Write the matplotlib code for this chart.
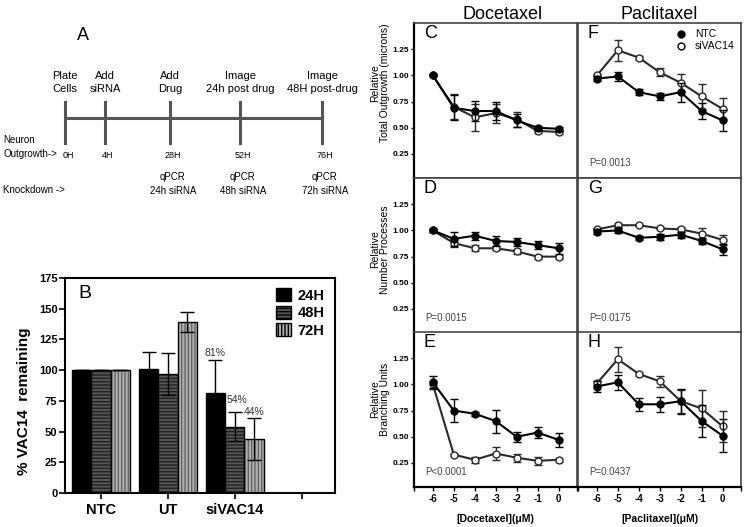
import numpy as np
import matplotlib
matplotlib.use("Agg")
import matplotlib.pyplot as plt
import matplotlib.patches as mpatches
import matplotlib.lines as mlines

plt.rcParams['font.family'] = ['Liberation Sans', 'DejaVu Sans']
narrow = ['Liberation Sans Narrow', 'Liberation Sans', 'DejaVu Sans']

# ---- panel A: timeline ----
tl_top = ["Plate\nCells", "Add\nsiRNA", "Add\nDrug", "Image\n24h post drug", "Image\n48H post-drug"]
tl_hours = ["0H", "4H", "28H", "52H", "76H"]
tl_qpcr = ["", "", "qPCR\n24h siRNA", "qPCR\n48h siRNA", "qPCR\n72h siRNA"]

# ---- panel B: qPCR ----
groups = ["NTC", "UT", "siVAC14", ""]
times = ["24H", "48H", "72H"]
vac_24h = [100, 101, 81]
vac_48h = [100, 97, 54]
vac_72h = [100, 139, 44]
err_24h = [0, 14, 27]
err_48h = [0, 17, 12]
err_72h = [0, 8, 17]
pct_labels = ["81%", "54%", "44%"]

# ---- panels C-H ----
dose = [-6, -5, -4, -3, -2, -1, 0]

doc_out_ntc = [1.00, 0.69, 0.66, 0.66, 0.57, 0.50, 0.49]
doc_out_ntc_err = [0.01, 0.12, 0.10, 0.09, 0.06, 0.02, 0.02]
doc_out_si = [1.00, 0.70, 0.60, 0.64, 0.58, 0.47, 0.46]
doc_out_si_err = [0.01, 0.12, 0.13, 0.09, 0.07, 0.02, 0.02]

doc_proc_ntc = [1.00, 0.92, 0.95, 0.90, 0.89, 0.86, 0.83]
doc_proc_ntc_err = [0.01, 0.07, 0.04, 0.05, 0.04, 0.04, 0.05]
doc_proc_si = [1.00, 0.88, 0.83, 0.83, 0.80, 0.75, 0.75]
doc_proc_si_err = [0.01, 0.04, 0.03, 0.02, 0.02, 0.02, 0.02]

doc_br_ntc = [1.02, 0.75, 0.72, 0.65, 0.50, 0.54, 0.47]
doc_br_ntc_err = [0.06, 0.11, 0.02, 0.11, 0.05, 0.05, 0.07]
doc_br_si = [1.00, 0.33, 0.28, 0.34, 0.30, 0.27, 0.28]
doc_br_si_err = [0.03, 0.01, 0.03, 0.06, 0.04, 0.04, 0.02]

pac_out_ntc = [0.97, 0.99, 0.84, 0.80, 0.84, 0.66, 0.57]
pac_out_ntc_err = [0.02, 0.04, 0.03, 0.03, 0.09, 0.08, 0.10]
pac_out_si = [1.00, 1.24, 1.17, 1.03, 0.93, 0.80, 0.68]
pac_out_si_err = [0.01, 0.10, 0.02, 0.04, 0.08, 0.12, 0.10]

pac_proc_ntc = [0.99, 1.00, 0.93, 0.94, 0.96, 0.90, 0.82]
pac_proc_ntc_err = [0.02, 0.02, 0.02, 0.03, 0.03, 0.03, 0.05]
pac_proc_si = [1.01, 1.05, 1.05, 1.02, 1.01, 0.97, 0.91]
pac_proc_si_err = [0.01, 0.02, 0.01, 0.01, 0.02, 0.05, 0.05]

pac_br_ntc = [0.98, 1.02, 0.81, 0.81, 0.84, 0.65, 0.51]
pac_br_ntc_err = [0.05, 0.07, 0.06, 0.07, 0.12, 0.15, 0.16]
pac_br_si = [1.01, 1.24, 1.10, 1.03, 0.84, 0.77, 0.60]
pac_br_si_err = [0.02, 0.12, 0.02, 0.05, 0.11, 0.18, 0.15]


fig = plt.figure(figsize=(7.5, 5.27), dpi=100)

# panel A drawn in pixel coordinates on a frameless overlay
ax_a = fig.add_axes([0, 0, 1, 1])
ax_a.set_xlim(0, 750)
ax_a.set_ylim(527, 0)
ax_a.axis('off')
tl_pos = [65, 105, 170, 240, 322]
ax_a.plot([tl_pos[0], tl_pos[-1]], [118, 118], color='#555555', lw=2.2)
for i, x in enumerate(tl_pos):
    ax_a.plot([x, x], [102, 143], color='#555555', lw=2.2)
    ax_a.text(x, 94, tl_top[i], ha='center', va='bottom', fontsize=8, family=narrow, linespacing=1.35)
    ax_a.text(x + 3, 155, tl_hours[i], ha='center', va='center', fontsize=6.5, family=narrow)
    if tl_qpcr[i]:
        ax_a.text(x + 3, 184, tl_qpcr[i], ha='center', va='center', fontsize=7, family=narrow, linespacing=1.5)
ax_a.text(83, 35, "A", ha='center', va='center', fontsize=13)
ax_a.text(3, 147, "Neuron\nOutgrowth->", ha='left', va='center', fontsize=7, family=narrow, linespacing=1.45)
ax_a.text(3, 190, "Knockdown ->", ha='left', va='center', fontsize=7, family=narrow)

# panel B
ax_b = fig.add_axes([0.0867, 0.0645, 0.36, 0.408])
xg = np.arange(3)
w = 0.29
fills = ['black', '#555555', '#b0b0b0']
hatches = [None, '-----', '|||||']
hatch_cols = ['black', '#222222', '#666666']
series = [vac_24h, vac_48h, vac_72h]
errs = [err_24h, err_48h, err_72h]
handles = []
for k in range(3):
    xs = xg + (k - 1) * w
    ax_b.bar(xs, series[k], w, color=fills[k], hatch=hatches[k], edgecolor=hatch_cols[k], linewidth=0)
    ax_b.bar(xs, series[k], w, color='none', edgecolor='black', linewidth=1.0)
    ax_b.errorbar(xs, series[k], yerr=errs[k], fmt='none', ecolor='black', elinewidth=1, capsize=5, capthick=1)
    handles.append(mpatches.Patch(facecolor=fills[k], hatch=hatches[k], edgecolor='black', label=times[k]))
pct_off = [(-w, 6), (0.03, 10), (w, 5)]
for k in range(3):
    dx, dy = pct_off[k]
    ax_b.text(2 + dx, series[k][2] + errs[k][2] + dy, pct_labels[k], ha='center', va='center',
              fontsize=7.5, color='#333333')
ax_b.set_xlim(-0.54, 3.5)
ax_b.set_ylim(0, 175)
ax_b.set_yticks(np.arange(0, 176, 25))
ax_b.set_xticks(np.arange(4))
ax_b.set_xticklabels(groups, fontsize=10.5, fontweight='bold')
for lab in ax_b.get_yticklabels():
    lab.set_fontweight('bold')
    lab.set_fontsize(8)
ax_b.tick_params(direction='out', length=4, width=1.2)
ax_b.tick_params(axis='y', pad=1.5)
for s in ax_b.spines.values():
    s.set_linewidth(1.5)
ax_b.set_ylabel("% VAC14  remaining", fontsize=11, fontweight='bold', family=narrow)
ax_b.yaxis.set_label_coords(-0.125, 0.428)
ax_b.text(0.05, 0.93, "B", transform=ax_b.transAxes, fontsize=14, va='center', ha='left')
ax_b.legend(handles=handles, loc='upper right', frameon=False, prop={'size': 10.5, 'weight': 'bold'},
            handlelength=1.0, handleheight=1.0, borderaxespad=0.3, labelspacing=0.2, handletextpad=0.5)

# panels C-H
col_x = [0.552, 0.7707]
row_b = [0.6622, 0.368, 0.0759]
pw, ph = 0.2173, 0.294
xlo, xhi = -6.9, 0.88
panels = [
    [(doc_out_ntc, doc_out_ntc_err, doc_out_si, doc_out_si_err, "C", None),
     (pac_out_ntc, pac_out_ntc_err, pac_out_si, pac_out_si_err, "F", "P=0.0013")],
    [(doc_proc_ntc, doc_proc_ntc_err, doc_proc_si, doc_proc_si_err, "D", "P=0.0015"),
     (pac_proc_ntc, pac_proc_ntc_err, pac_proc_si, pac_proc_si_err, "G", "P=0.0175")],
    [(doc_br_ntc, doc_br_ntc_err, doc_br_si, doc_br_si_err, "E", "P<0.0001"),
     (pac_br_ntc, pac_br_ntc_err, pac_br_si, pac_br_si_err, "H", "P=0.0437")],
]
ylabels = ["Relative\nTotal Outgrowth (microns)", "Relative\nNumber Processes", "Relative\nBranching Units"]
ylabel_y = [0.613, 0.54, 0.565]
xlabels = ["[Docetaxel](\u03bcM)", "[Paclitaxel](\u03bcM)"]
col_titles = ["Docetaxel", "Paclitaxel"]
title_x = [0.546, 0.5]

for r in range(3):
    for c in range(2):
        ntc, ntc_err, si, si_err, letter, pval = panels[r][c]
        ax = fig.add_axes([col_x[c], row_b[r], pw, ph])
        ax.errorbar(dose, si, yerr=si_err, color='#2a2a2a', marker='o', ms=5, lw=1.5,
                    mfc='white', mec='#2a2a2a', mew=1.0, capsize=3, elinewidth=1, capthick=1, zorder=2)
        ax.errorbar(dose, ntc, yerr=ntc_err, color='black', marker='o', ms=5, lw=1.5,
                    mfc='black', mec='black', capsize=3, elinewidth=1, capthick=1, zorder=3)
        ax.set_xlim(xlo, xhi)
        ax.set_ylim(0.02, 1.5)
        ax.set_xticks(dose)
        ax.set_yticks([0.25, 0.5, 0.75, 1.0, 1.25])
        for s in ax.spines.values():
            s.set_linewidth(1.2)
            s.set_color('#444444')
        if c == 0:
            ax.spines['left'].set_color('black')
            ax.spines['left'].set_linewidth(1.6)
            ax.set_yticklabels(["0.25", "0.50", "0.75", "1.00", "1.25"], fontsize=6, fontweight='bold',
                               family=narrow)
            ax.tick_params(axis='y', direction='out', length=2.5, width=1, pad=1)
            ax.set_ylabel(ylabels[r], fontsize=7.5, linespacing=0.95, family=narrow)
            ax.yaxis.set_label_coords(-0.15, ylabel_y[r])
        else:
            ax.tick_params(axis='y', left=False, labelleft=False)
        if r == 2:
            ax.spines['bottom'].set_color('black')
            ax.spines['bottom'].set_linewidth(1.6)
            ax.set_xticklabels([str(d) for d in dose], fontsize=7, fontweight='bold', family=narrow)
            ax.set_xticks([xlo + 0.02, xhi - 0.02], minor=True)
            ax.tick_params(axis='x', which='both', direction='out', length=3, width=1, pad=2)
            ax.set_xlabel(xlabels[c], fontsize=7.5, fontweight='bold', family=narrow, labelpad=7)
        else:
            ax.tick_params(axis='x', bottom=False, labelbottom=False)
        if r == 0:
            ax.set_title(col_titles[c], fontsize=13, pad=2, x=title_x[c])
        ax.text(0.06, 0.93, letter, transform=ax.transAxes, fontsize=13, ha='left', va='center')
        if pval:
            ax.text(0.07, 0.1, pval, transform=ax.transAxes, fontsize=7, ha='left', va='center',
                    color='#444444', family=narrow)
        if r == 0 and c == 1:
            h1 = mlines.Line2D([], [], color='black', marker='o', ls='none', ms=5, label='NTC')
            h2 = mlines.Line2D([], [], color='black', marker='o', mfc='white', ls='none', ms=5, label='siVAC14')
            ax.legend(handles=[h1, h2], loc='upper right', frameon=False, fontsize=7.5,
                      handletextpad=0.3, borderaxespad=0.2, labelspacing=0.2)

fig.savefig("out.png", dpi=100)
